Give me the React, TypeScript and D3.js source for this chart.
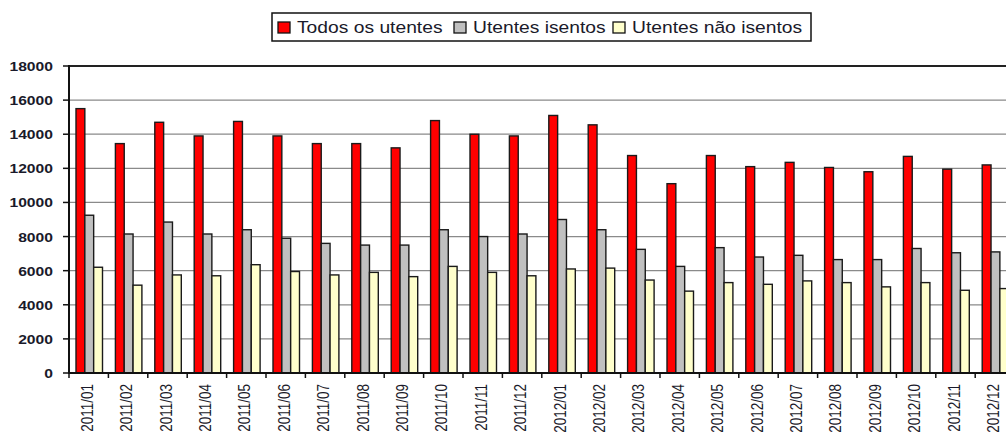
import React from 'react';
import * as d3 from 'd3';

const months = [
  '2011/01', '2011/02', '2011/03', '2011/04', '2011/05', '2011/06',
  '2011/07', '2011/08', '2011/09', '2011/10', '2011/11', '2011/12',
  '2012/01', '2012/02', '2012/03', '2012/04', '2012/05', '2012/06',
  '2012/07', '2012/08', '2012/09', '2012/10', '2012/11', '2012/12',
];

const todos = [
  15500, 13450, 14700, 13900, 14750, 13900, 13450, 13450, 13200, 14800, 14000, 13900,
  15100, 14550, 12750, 11100, 12750, 12100, 12350, 12050, 11800, 12700, 11950, 12200,
];
const isentos = [
  9250, 8150, 8850, 8150, 8400, 7900, 7600, 7500, 7500, 8400, 8000, 8150,
  9000, 8400, 7250, 6250, 7350, 6800, 6900, 6650, 6650, 7300, 7050, 7100,
];
const naoIsentos = [
  6200, 5150, 5750, 5700, 6350, 5950, 5750, 5900, 5650, 6250, 5900, 5700,
  6100, 6150, 5450, 4800, 5300, 5200, 5400, 5300, 5050, 5300, 4850, 4950,
];

const seriesNames = ['Todos os utentes', 'Utentes isentos', 'Utentes não isentos'];
const seriesColors = ['#ff0000', '#c0c0c0', '#ffffcc'];
const yTicks = [0, 2000, 4000, 6000, 8000, 10000, 12000, 14000, 16000, 18000];

const W = 1006;
const H = 433;
const FONT = '"Liberation Sans", Arial, sans-serif';
const STRETCH = 1.16; // the source image is widened a bit

export default function App() {
  const left = 69;
  const top = 66;
  const bottom = 373;
  const step = 39.4;
  const right = left + step * months.length;

  const values = [todos, isentos, naoIsentos];

  const x0 = d3.scaleBand<string>().domain(months).range([left, right]).padding(0);
  const x1 = d3.scaleBand<number>().domain([0, 1, 2]).range([7, 33.5]).padding(0);
  const y = d3.scaleLinear().domain([0, 18000]).range([bottom, top]);

  // legend swatch positions
  const legendX = [278, 454, 613];

  return (
    <svg
      width={W}
      height={H}
      style={{ position: 'absolute', left: 0, top: 0, background: '#fff' }}
      fontFamily={FONT}
    >
      <rect x={0} y={0} width={W} height={H} fill="#fff" />

      {/* grid */}
      {yTicks.map((t) => (
        <line
          key={t}
          x1={left}
          x2={right}
          y1={y(t)}
          y2={y(t)}
          stroke={t === 18000 ? '#222' : '#8a8a8a'}
          strokeWidth={t === 18000 ? 2 : 1.2}
        />
      ))}

      {/* bars */}
      {months.map((m, i) => (
        <g key={m} transform={`translate(${x0(m)},0)`}>
          {values.map((s, k) => (
            <rect
              key={k}
              x={x1(k)}
              y={y(s[i])}
              width={x1.bandwidth()}
              height={bottom - y(s[i])}
              fill={seriesColors[k]}
              stroke="#1a1a1a"
              strokeWidth={1.4}
            />
          ))}
        </g>
      ))}

      {/* axes */}
      <line x1={left} x2={left} y1={top - 1} y2={bottom} stroke="#111" strokeWidth={2} />
      <line x1={left - 1} x2={right} y1={bottom} y2={bottom} stroke="#111" strokeWidth={2} />

      {yTicks.map((t) => (
        <g key={t}>
          <line x1={left - 6} x2={left} y1={y(t)} y2={y(t)} stroke="#111" strokeWidth={1.5} />
          <g transform={`translate(53,${y(t) + 5}) scale(${STRETCH},1)`}>
            <text textAnchor="end" fontSize={13.5} fill="#1a1a2a" fontWeight="bold">
              {t}
            </text>
          </g>
        </g>
      ))}

      {months.map((m, i) => (
        <line
          key={m}
          x1={left + i * step}
          x2={left + i * step}
          y1={bottom}
          y2={bottom + 5}
          stroke="#111"
          strokeWidth={1.5}
        />
      ))}

      {months.map((m) => {
        const cx = (x0(m) as number) + x0.bandwidth() / 2 + 4;
        return (
          <g key={m} transform={`translate(${cx},384) rotate(-90) scale(1,${STRETCH})`}>
            <text textAnchor="end" fontSize={13.5} fill="#1a1a2a">
              {m}
            </text>
          </g>
        );
      })}

      {/* legend */}
      <rect x={272} y={13} width={539} height={28} fill="#fff" stroke="#111" strokeWidth={1.5} />
      {seriesNames.map((name, k) => (
        <g key={name}>
          <rect
            x={legendX[k]}
            y={22}
            width={12}
            height={11}
            fill={seriesColors[k]}
            stroke="#111"
            strokeWidth={1.3}
          />
          <g transform={`translate(${legendX[k] + 19},32.5) scale(${STRETCH},1)`}>
            <text fontSize={16.6} fill="#1a1a2a">
              {name}
            </text>
          </g>
        </g>
      ))}
    </svg>
  );
}
